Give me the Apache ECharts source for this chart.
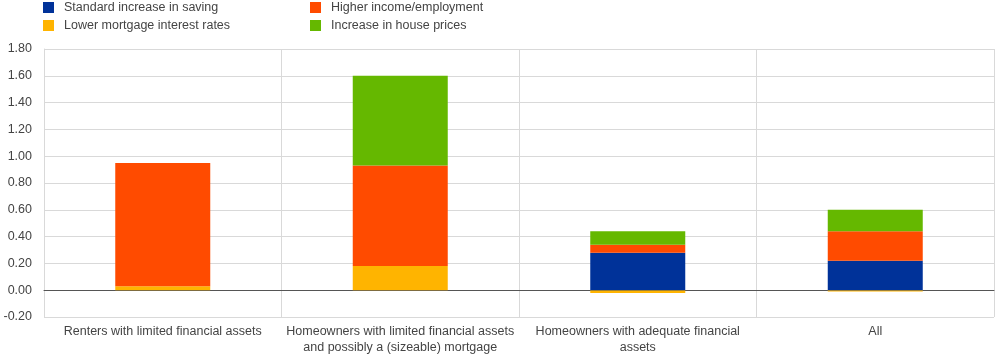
<!DOCTYPE html>
<html>
<head>
<meta charset="utf-8">
<script src="https://cdn.jsdelivr.net/npm/echarts@6/dist/echarts.min.js"></script>
<style>html,body{margin:0;padding:0;background:#fff}#c{width:1005px;height:359px}</style>
</head>
<body>
<div id="c"></div>
<script>
const categories = [
  "Renters with limited financial assets",
  "Homeowners with limited financial assets\nand possibly a (sizeable) mortgage",
  "Homeowners with adequate financial\nassets",
  "All"
];
const savingVals   = [0.00, 0.00, 0.28, 0.22];
const incomeVals   = [0.92, 0.75, 0.06, 0.22];
const mortgageVals = [0.03, 0.18, -0.02, -0.01];
const houseVals    = [0.00, 0.67, 0.10, 0.16];
const yTicks = { min: -0.2, max: 1.8, interval: 0.2 };

const font = '"Liberation Sans", Arial, sans-serif';
const chart = echarts.init(document.getElementById('c'), null, { renderer: 'canvas' });
const mk = (name, data, color) => ({
  name, type: 'bar', stack: 'total', data, barWidth: '40%',
  itemStyle: { color }, emphasis: { disabled: true }
});
const legendBase = {
  top: 1, padding: 0, orient: 'vertical', itemWidth: 11, itemHeight: 11, itemGap: 5,
  icon: 'rect', textStyle: { fontSize: 12.5, color: '#444', fontFamily: font, padding: [0, 0, 0, 5] }
};
chart.setOption({
  animation: false,
  textStyle: { fontFamily: font },
  legend: [
    Object.assign({ left: 43, data: ['Standard increase in saving', 'Lower mortgage interest rates'] }, legendBase),
    Object.assign({ left: 310, data: ['Higher income/employment', 'Increase in house prices'] }, legendBase)
  ],
  grid: { left: 44, right: 11, top: 49, bottom: 42, containLabel: false, outerBoundsMode: 'none' },
  xAxis: {
    type: 'category', data: categories,
    axisLine: { onZero: true, lineStyle: { color: '#555', width: 1 } },
    axisTick: { show: false },
    splitLine: { show: true, lineStyle: { color: '#d9d9d9' } },
    axisLabel: { interval: 0, color: '#444', fontSize: 12.5, fontFamily: font, margin: 7, lineHeight: 16 }
  },
  yAxis: {
    type: 'value', min: yTicks.min, max: yTicks.max, interval: yTicks.interval,
    axisLine: { show: true, lineStyle: { color: '#d9d9d9' } },
    axisTick: { show: false },
    splitLine: { lineStyle: { color: '#d9d9d9' } },
    axisLabel: { formatter: v => v.toFixed(2), color: '#444', fontSize: 12.5, fontFamily: font, margin: 12 }
  },
  series: [
    mk('Lower mortgage interest rates', mortgageVals, '#FFB400'),
    mk('Standard increase in saving', savingVals, '#003299'),
    mk('Higher income/employment', incomeVals, '#FF4B00'),
    mk('Increase in house prices', houseVals, '#65B800')
  ]
});
</script>
</body>
</html>
